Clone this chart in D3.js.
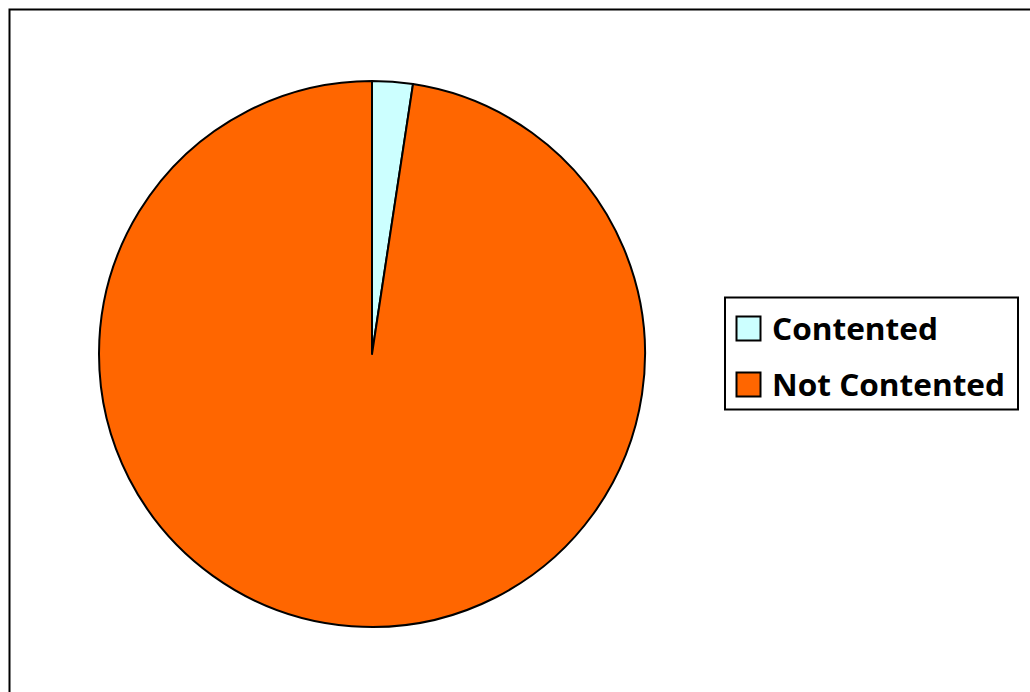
<!DOCTYPE html>
<html>
<head>
<meta charset="utf-8">
<script src="https://d3js.org/d3.v7.min.js"></script>
<style>
body { margin: 0; background: #fff; }
svg { display: block; }
</style>
</head>
<body>
<svg id="chart" width="1030" height="692"></svg>
<script>
// data
var categories = ["Contented", "Not Contented"];
var values = [2.4, 97.6];
var colors = ["#CCFFFF", "#FF6600"];

var svg = d3.select("#chart");

// outer chart area border (runs past right/bottom edge)
svg.append("rect")
  .attr("x", 9.5).attr("y", 9.5)
  .attr("width", 1040).attr("height", 700)
  .attr("fill", "none").attr("stroke", "#000").attr("stroke-width", 2);

var cx = 372, cy = 354, radius = 273;

var pie = d3.pie().sort(null).value(function(d) { return d; });
var arc = d3.arc().innerRadius(0).outerRadius(radius);

var g = svg.append("g").attr("transform", "translate(" + cx + "," + cy + ")");
g.selectAll("path")
  .data(pie(values))
  .enter()
  .append("path")
  .attr("d", arc)
  .attr("fill", function(d, i) { return colors[i]; })
  .attr("stroke", "#000")
  .attr("stroke-width", 2)
  .attr("stroke-linejoin", "round");

// legend
var legend = svg.append("g");
legend.append("rect")
  .attr("x", 725).attr("y", 297.5)
  .attr("width", 293).attr("height", 112)
  .attr("fill", "#fff").attr("stroke", "#000").attr("stroke-width", 2);

var item = legend.selectAll("g.item")
  .data(categories)
  .enter()
  .append("g")
  .attr("class", "item")
  .attr("transform", function(d, i) { return "translate(0," + (i * 56) + ")"; });

item.append("rect")
  .attr("x", 736.5).attr("y", 316.5)
  .attr("width", 24).attr("height", 24)
  .attr("fill", function(d, i) { return colors[i]; })
  .attr("stroke", "#000").attr("stroke-width", 2);

item.append("text")
  .attr("x", 772).attr("y", 340)
  .attr("font-family", "'Open Sans', 'Liberation Sans', sans-serif")
  .attr("font-weight", "bold")
  .attr("font-size", 31)
  .attr("textLength", function(d, i) { return i === 0 ? 166 : 233; })
  .attr("lengthAdjust", "spacingAndGlyphs")
  .text(function(d) { return d; });
</script>
</body>
</html>
